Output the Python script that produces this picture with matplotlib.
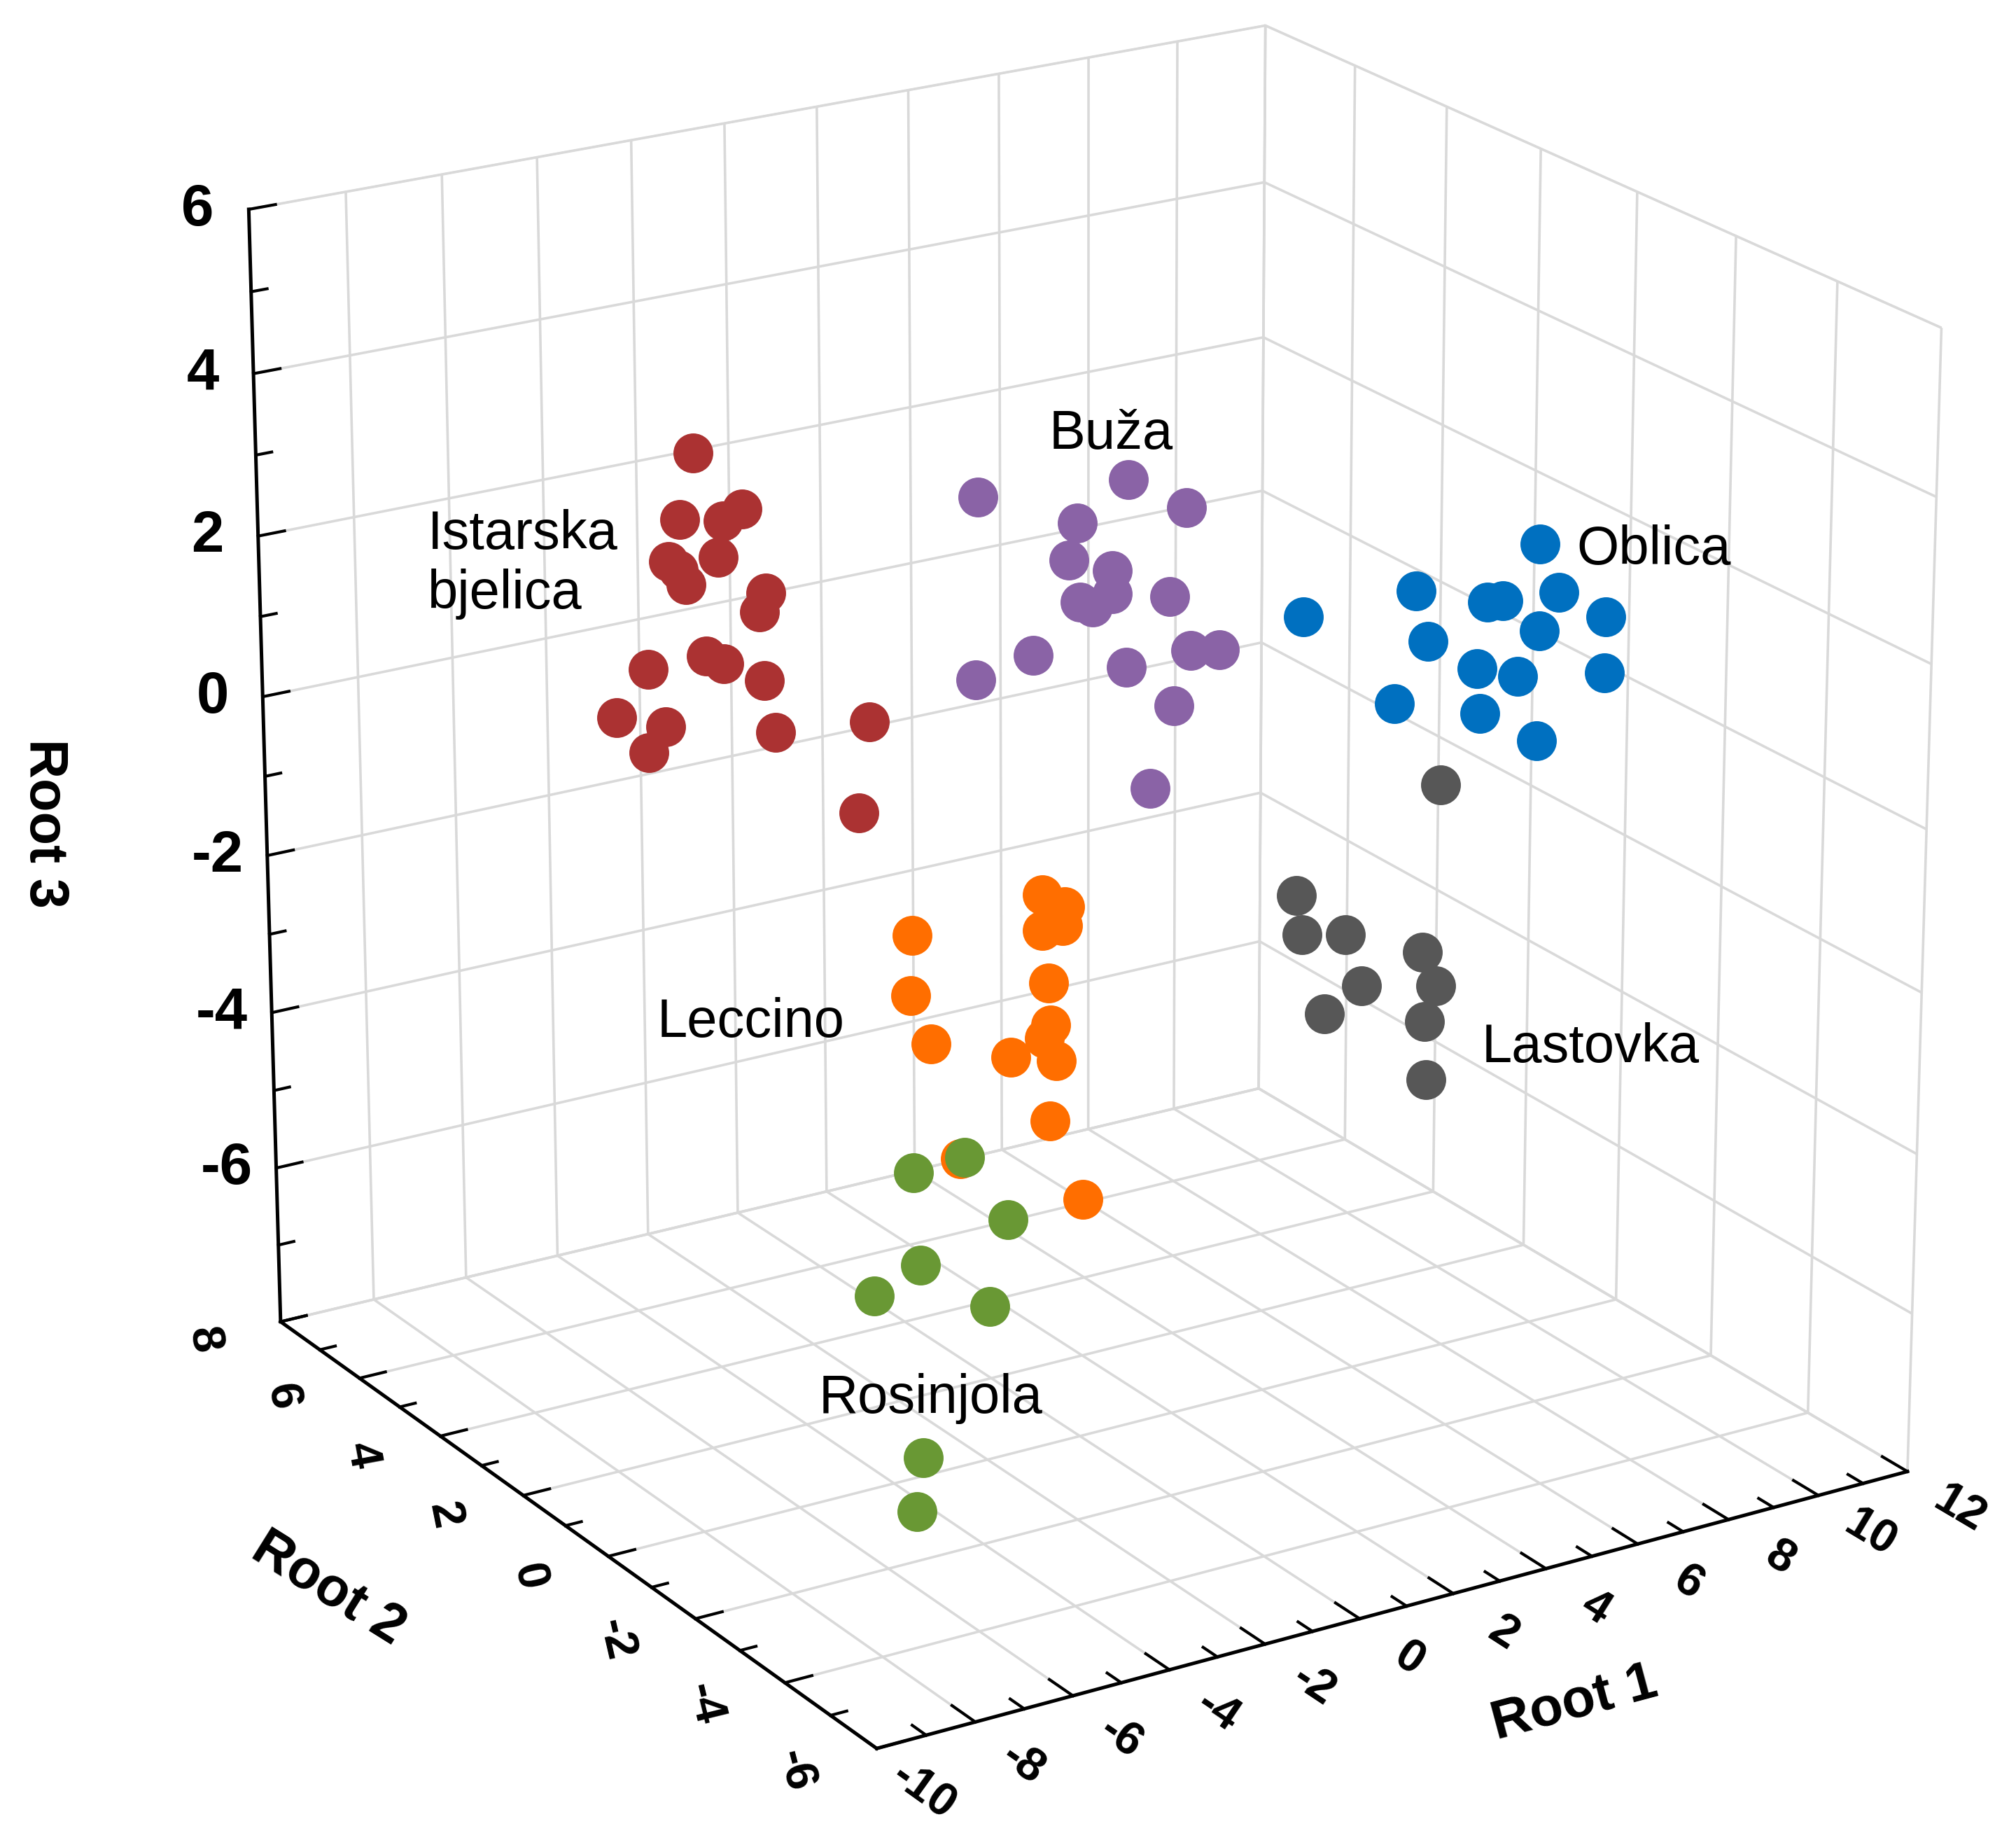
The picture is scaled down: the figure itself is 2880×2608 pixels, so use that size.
import matplotlib
matplotlib.use("Agg")
import matplotlib.pyplot as plt
import numpy as np

plt.rcParams["font.family"] = ["Liberation Sans", "DejaVu Sans"]
plt.rcParams["axes.unicode_minus"] = False

# discriminant scores (Root 1, Root 2, Root 3)
ist_r1 = [-4.35, -4.65, -3.74, -3.35, -4.90, -4.70, -4.54, -3.85, -2.86, -3.00,
          -5.36, -4.13, -3.77, -2.91, -6.03, -5.01, -5.37, -2.69, -0.68, -0.92]
ist_r2 = [4.0] * 20
ist_r3 = [3.53, 2.75, 2.63, 2.73, 2.27, 2.14, 1.94, 2.19, 1.64, 1.42,
          1.00, 1.01, 0.87, 0.56, 0.49, 0.25, -0.03, -0.11, -0.23, -1.34]

buza_r1 = [-0.22, 3.00, 4.25, 1.90, 1.71, 2.65, 1.95, 2.23, 2.65, 3.89,
           0.94, -0.28, 2.95, 4.36, 4.99, 4.00, 3.48]
buza_r2 = [2.0] * 17
buza_r3 = [3.09, 2.93, 2.44, 2.53, 2.09, 1.85, 1.55, 1.45, 1.57, 1.38,
           1.01, 0.86, 0.62, 0.66, 0.59, 0.01, -0.96]

obl_r1 = [3.76, 6.19, 7.75, 8.09, 8.89, 9.33, 10.38, 8.91, 6.46, 7.54,
          8.45, 10.38, 5.75, 7.62, 8.89]
obl_r2 = [-1.0] * 15
obl_r3 = [2.05, 2.08, 1.75, 1.73, 2.33, 1.68, 1.25, 1.26, 1.43, 0.96,
          0.75, 0.56, 0.75, 0.40, -0.10]

las_r1 = [5.73, 2.63, 2.76, 3.69, 5.38, 4.05, 5.68, 3.25, 5.44, 5.49]
las_r2 = [-2.0] * 10
las_r3 = [0.07, -0.89, -1.39, -1.51, -1.95, -2.19, -2.41, -2.43, -2.82, -3.55]

lec_r1 = [-1.66, -1.70, -1.27, 1.13, 1.62, 1.13, 1.57, 1.27, 1.32, 1.18,
          1.43, 0.44, 1.29, -0.66, 2.01]
lec_r2 = [2.0] * 15
lec_r3 = [-2.13, -2.88, -3.55, -1.99, -2.21, -2.44, -2.44, -3.12, -3.66, -3.81,
          -4.13, -3.95, -4.88, -5.09, -5.98]

ros_r1 = [-4.36, -5.43, -3.47, -5.29, -6.26, -3.85, -5.26, -5.40]
ros_r2 = [-2.0] * 8
ros_r3 = [-3.15, -3.19, -4.04, -4.34, -4.58, -5.06, -6.73, -7.38]

groups = [
    ("Istarska\nbjelica", ist_r1, ist_r2, ist_r3, "#AB3232"),
    ("Buža", buza_r1, buza_r2, buza_r3, "#8A63A6"),
    ("Oblica", obl_r1, obl_r2, obl_r3, "#0070C0"),
    ("Lastovka", las_r1, las_r2, las_r3, "#575757"),
    ("Leccino", lec_r1, lec_r2, lec_r3, "#FF6E00"),
    ("Rosinjola", ros_r1, ros_r2, ros_r3, "#699834"),
]

root1_ticks = list(range(-10, 13, 2))
root2_ticks = list(range(-6, 9, 2))
root3_ticks = list(range(-6, 7, 2))

# label spots in figure fraction
label_pos = {
    "Istarska\nbjelica": (0.212, 0.691),
    "Buža": (0.551, 0.762),
    "Oblica": (0.782, 0.699),
    "Lastovka": (0.735, 0.426),
    "Leccino": (0.326, 0.440),
    "Rosinjola": (0.406, 0.234),
}

fig = plt.figure(figsize=(14.4, 13.04), dpi=200)
ax = fig.add_axes([0.024, 0.025, 1.0, 1.0], projection="3d", computed_zorder=False)
ax.set_proj_type("persp", focal_length=1.1)
ax.view_init(elev=20.9, azim=-122.0)
ax.set_box_aspect((1.006, 1.0, 1.006), zoom=1.109)

ax.set_xlim(-10, 12)
ax.set_ylim(-6, 8)
ax.set_zlim(-8, 6)
ax.set_xticks(root1_ticks)
ax.set_yticks(root2_ticks)
ax.set_zticks([-8] + root3_ticks)

for axis in (ax.xaxis, ax.yaxis, ax.zaxis):
    axis.set_tick_params(label1On=False, label2On=False)
    axis.set_pane_color((1, 1, 1, 1))
    axis.pane.set_edgecolor("#D9D9D9")
    axis._axinfo["grid"].update(color="#D9D9D9", linewidth=1.3)
    axis._axinfo["tick"]["inward_factor"] = 0.0
    axis._axinfo["tick"]["outward_factor"] = 0.0
    axis.line.set_color("black")
    axis.line.set_linewidth(1.8)

# tick marks pointing into the box, minor ones at the odd values
tk = dict(color="black", lw=1.5, zorder=2)
for v in range(-10, 13):
    L = 0.5 if v % 2 == 0 else 0.3
    ax.plot([v, v], [-6, -6 + L], [-8, -8], **tk)
for v in range(-6, 9):
    L = 0.55 if v % 2 == 0 else 0.33
    ax.plot([-10, -10 + L], [v, v], [-8, -8], **tk)
for v in range(-8, 7):
    L = 0.55 if v % 2 == 0 else 0.33
    ax.plot([-10, -10 + L], [8, 8], [v, v], **tk)

M = ax.get_proj()


def project(x, y, z):
    p = M @ np.array([x, y, z, 1.0])
    return p[0] / p[3], p[1] / p[3]


def label3d(x, y, z, s, d=None, **kw):
    # place a flat label at a 3D spot, turned along direction d on screen
    xp, yp = project(x, y, z)
    rot = 0.0
    if d is not None:
        x2, y2 = project(x + d[0], y + d[1], z + d[2])
        rot = (np.degrees(np.arctan2(y2 - yp, x2 - xp)) + 180) % 180
        if rot > 90:
            rot -= 180
    ax.text2D(xp, yp, s, transform=ax.transData, rotation=rot, **kw)


tl = dict(fontweight="bold", ha="center", va="center", color="black")
for v in root1_ticks:
    label3d(v - 0.2, -7.2, -8, str(v), (0, -1, 0), fontsize=24, **tl)
for v in root2_ticks:
    label3d(-11.65, v, -8, str(v), (-0.7, -1, 0), fontsize=24, **tl)
for v in root3_ticks:
    label3d(-10.8, 8.3, v, str(v), fontsize=30, **tl)

for i, (name, r1, r2, r3, col) in enumerate(groups):
    ax.scatter(r1, r2, r3, s=420, c=col, depthshade=False, linewidths=0,
               alpha=1, zorder=10 + i)
    x, y = label_pos[name]
    ha = "center" if name == "Buža" else "left"
    fig.text(x, y, name, fontsize=28, ha=ha, va="center", color="black")

# axis titles
fig.text(0.022, 0.549, "Root 3", fontsize=28, fontweight="bold",
         rotation=-90, ha="center", va="center")
fig.text(0.163, 0.130, "Root 2", fontsize=28, fontweight="bold",
         rotation=-32, ha="center", va="center")
fig.text(0.781, 0.067, "Root 1", fontsize=28, fontweight="bold",
         rotation=15, ha="center", va="center")

fig.savefig("out.png", dpi=200, facecolor="white")
